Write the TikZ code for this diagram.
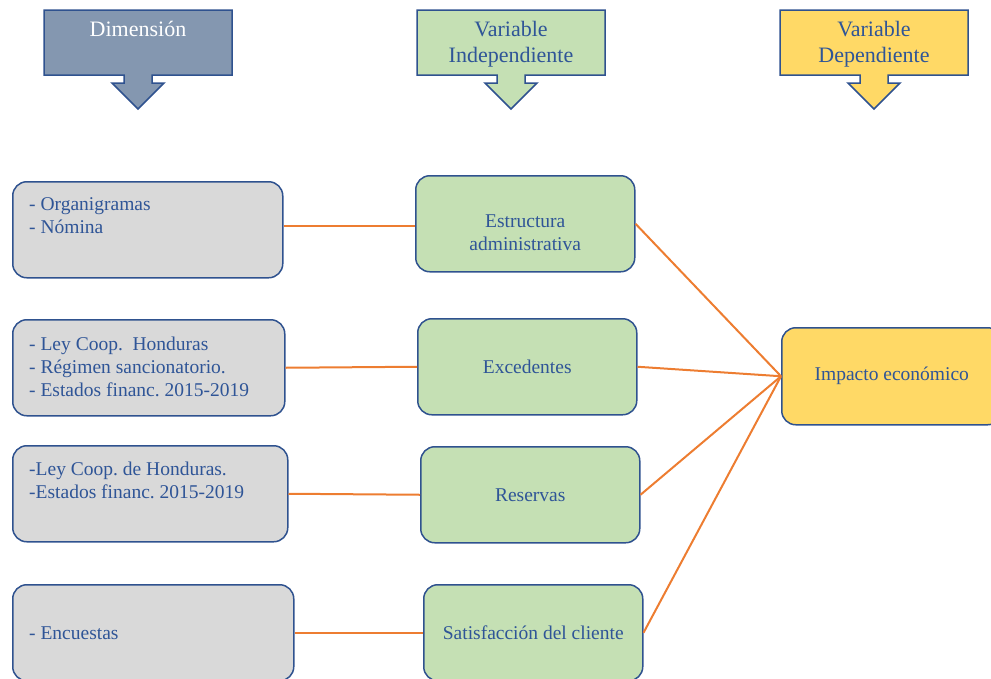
\documentclass[tikz,border=0pt]{standalone}
\usepackage{fontspec}
\setmainfont{Liberation Serif}
\usetikzlibrary{positioning}
\frenchspacing
\definecolor{dimblue}{HTML}{8497B0}
\definecolor{indgreen}{HTML}{C5E0B4}
\definecolor{depyellow}{HTML}{FFD966}
\definecolor{itemgray}{HTML}{D9D9D9}
\definecolor{lineblue}{HTML}{2F528F}
\definecolor{textblue}{HTML}{2F5597}
\definecolor{linkorange}{HTML}{ED7D31}
\tikzset{
    head-shape/.style = {draw=lineblue, line width=1.5pt},
    head-text/.style = {text=textblue, font=\fontsize{22}{26}\selectfont, align=center, inner sep=0pt, anchor=north},
    item-box/.style = {draw=lineblue, line width=1.5pt, rectangle, rounded corners=14pt, anchor=north west, minimum height=96pt, text=textblue, font=\fontsize{19.5}{23}\selectfont, align=center},
    item-text/.style = {text=textblue, font=\fontsize{19.5}{23}\selectfont, align=left, inner sep=0pt},
    link/.style = {draw=linkorange, line width=2pt},
}

\begin{document}
\begin{tikzpicture}[x=1pt, y=-1pt]
\useasboundingbox (0,0) rectangle (991,678);
\clip (0,0) rectangle (991,678);

% column heads with down arrows
\foreach \name/\cx/\col/\tcol/\txt in {dim/138/dimblue/white/Dimensión, indep/511/indgreen/textblue/{Variable\\Independiente}, dep/874/depyellow/textblue/{Variable\\Dependiente}} {
    \draw[head-shape, fill=\col] (\cx-94,10) -- (\cx+94,10) -- (\cx+94,75) -- (\cx+14,75) -- (\cx+14,83) -- (\cx+26,83)
        -- (\cx,109) -- (\cx-26,83) -- (\cx-14,83) -- (\cx-14,75) -- (\cx-94,75) -- cycle;
    \node[head-text, text=\tcol] (head-\name) at (\cx,21) {\txt};
}

% dimensions
\node[item-box, fill=itemgray, minimum width=270pt] (left1) at (12,181) {};
\node[item-box, fill=itemgray, minimum width=272pt] (left2) at (12,319) {};
\node[item-box, fill=itemgray, minimum width=275pt] (left3) at (12,445) {};
\node[item-box, fill=itemgray, minimum width=281pt] (left4) at (12,584) {};
\node[item-text, below right=16pt and 17pt of left1.north west] (left1-text) {- Organigramas\\- Nómina};
\node[item-text, below right=18pt and 17pt of left2.north west] (left2-text) {- Ley Coop.\ \ Honduras\\- Régimen sancionatorio.\\- Estados financ. 2015-2019};
\node[item-text, below right=16.5pt and 17pt of left3.north west] (left3-text) {-Ley Coop. de Honduras.\\-Estados financ. 2015-2019};
\node[item-text, right=17pt of left4.west] (left4-text) {- Encuestas};

% independent variables
\node[item-box, fill=indgreen, minimum width=219pt] (mid1) at (415,175) {};
\node[item-text, align=center] (mid1-text) at ([yshift=-9pt]mid1.center) {Estructura\\administrativa};
\node[item-box, fill=indgreen, minimum width=219pt] (mid2) at (417,318) {Excedentes};
\node[item-box, fill=indgreen, minimum width=219pt] (mid3) at (420,446) {Reservas};
\node[item-box, fill=indgreen, minimum width=219pt] (mid4) at (423,584) {Satisfacción del cliente};

% dependent variable
\node[item-box, fill=depyellow, minimum width=220pt, minimum height=97pt] (impact) at (781,327) {Impacto económico};

\draw[link] ([yshift=4pt]left1.east) -- ([yshift=-2pt]mid1.west);
\foreach \i in {2,...,4} {
    \draw[link] (left\i.east) -- (mid\i.west);
}
\foreach \i in {1,...,4} {
    \draw[link] (mid\i.east) -- (impact.west);
}
\end{tikzpicture}
\end{document}
